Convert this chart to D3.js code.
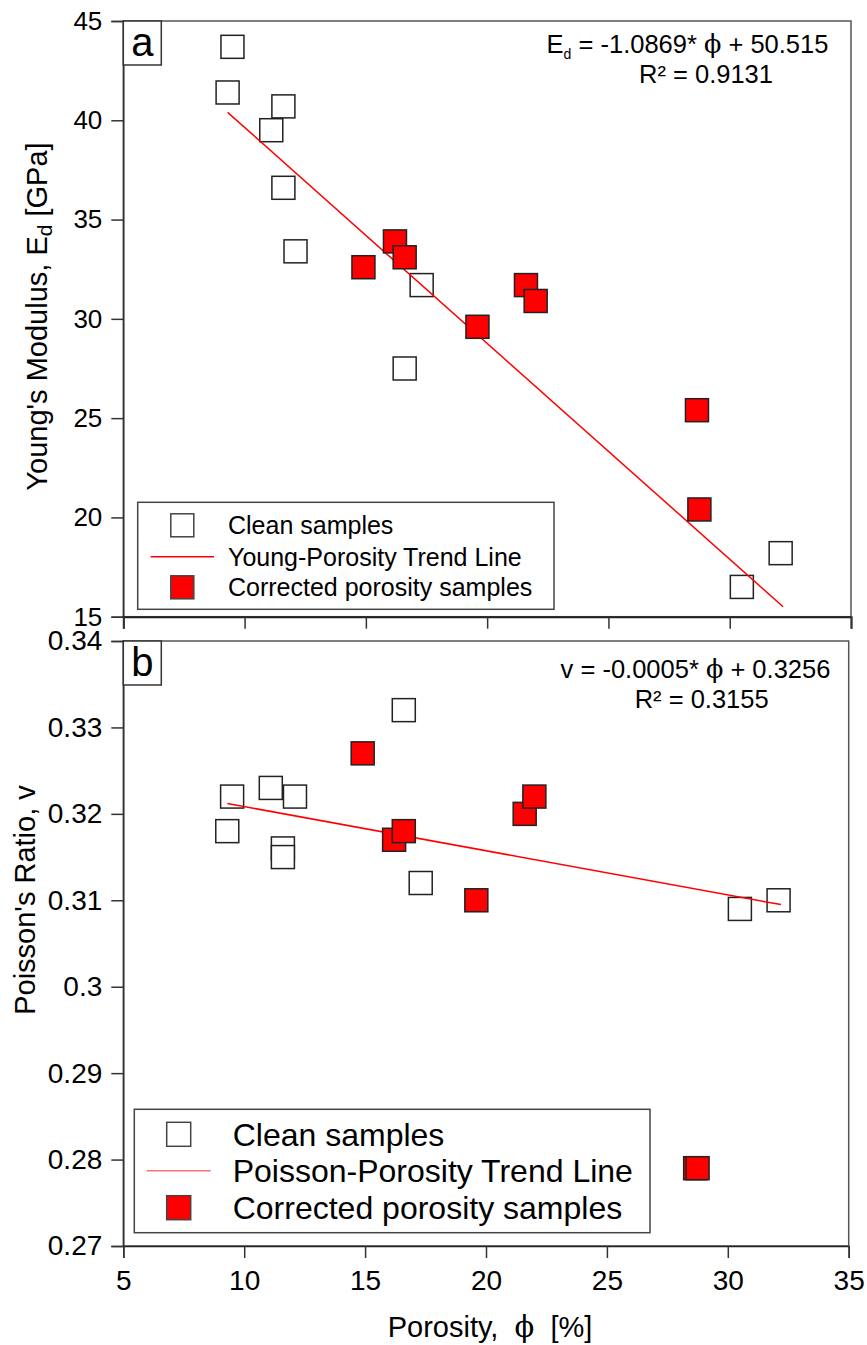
<!DOCTYPE html>
<html>
<head>
<meta charset="utf-8">
<script src="https://cdn.jsdelivr.net/npm/d3@7"></script>
<style>
	body { margin: 0; background: #fff; }
	svg { display: block; }
	text { font-family: "Liberation Sans", Arial, sans-serif; fill: #000; }
</style>
</head>
<body>
<div id="vis"></div>
<script>
// ticks
const porosityTicks = [5, 10, 15, 20, 25, 30, 35]
const youngTicks = [15, 20, 25, 30, 35, 40, 45]
const poissonTicks = [0.27, 0.28, 0.29, 0.3, 0.31, 0.32, 0.33, 0.34]

// clean samples
const cleanPorosity = [9.5, 9.3, 11.1, 11.6, 11.6, 12.1, 16.6, 17.3, 30.5, 32.1]
const cleanYoung = [43.7, 41.4, 39.5, 40.7, 36.6, 33.4, 27.5, 31.7, 16.5, 18.2]
const cleanPoisson = [0.322, 0.318, 0.323, 0.316, 0.315, 0.322, 0.332, 0.312, 0.309, 0.310]

// corrected porosity samples
const corrPorosity = [14.9, 16.2, 16.6, 19.6, 21.6, 22.0, 28.65, 28.75]
const corrYoung = [32.6, 33.9, 33.1, 29.6, 31.7, 30.9, 25.4, 20.4]
const corrPoisson = [0.327, 0.317, 0.318, 0.310, 0.320, 0.322, 0.279, 0.279]

// trend line end points
const trendPorosity = [9.3, 32.2]
const youngTrend = [40.4, 15.5]
const poissonTrend = [0.3212, 0.3095]

const PHI = '\u03D5'
const NBSP = '\u00A0'
const markerSize = 23

const svg = d3.select('#vis')
	.append('svg')
	.attr('width', 867)
	.attr('height', 1345)

// draws one panel (frame, axes, points, trend line, equation, legend)
function drawPanel(p) {
	const x = d3.scaleLinear([5, 35], p.xRange)
	const y = d3.scaleLinear(p.yDomain, p.yRange)
	const g = svg.append('g')

	g.append('rect')
		.attr('x', p.xRange[0]).attr('y', p.yRange[1])
		.attr('width', p.xRange[1] - p.xRange[0])
		.attr('height', p.yRange[0] - p.yRange[1])
		.attr('fill', 'none')
		.attr('stroke', '#555')
		.attr('stroke-width', 1.5)

	let yAxis = g.append('g')
		.attr('transform', `translate(${p.xRange[0]},0)`)
		.call(d3.axisLeft(y).tickValues(p.yTicks).tickSize(12).tickPadding(9).tickFormat(d => String(d)))
	yAxis.select('.domain').attr('stroke', '#333').attr('stroke-width', 1.5)
	yAxis.selectAll('line').attr('stroke', '#333').attr('stroke-width', 1.5)
	yAxis.selectAll('text')
		.attr('font-size', p.tickFont + 'px')
		.attr('font-family', '"Liberation Sans", Arial, sans-serif')
		.attr('fill', '#000')

	let xAxis = g.append('g')
		.attr('transform', `translate(0,${p.yRange[0]})`)
		.call(d3.axisBottom(x).tickValues(porosityTicks).tickSize(12).tickPadding(12)
			.tickFormat(p.xLabels ? (d => String(d)) : ''))
	xAxis.select('.domain').attr('stroke', '#222').attr('stroke-width', p.bottomWidth)
	xAxis.selectAll('line').attr('stroke', '#333').attr('stroke-width', 1.5)
	xAxis.selectAll('text')
		.attr('font-size', p.tickFont + 'px')
		.attr('font-family', '"Liberation Sans", Arial, sans-serif')
		.attr('fill', '#000')

	// clean samples
	g.selectAll('.clean')
		.data(p.clean)
		.enter()
		.append('rect')
		.attr('class', 'clean')
		.attr('x', d => x(d[0]) - markerSize / 2)
		.attr('y', d => y(d[1]) - markerSize / 2)
		.attr('width', markerSize)
		.attr('height', markerSize)
		.attr('fill', '#fff')
		.attr('stroke', '#222')
		.attr('stroke-width', 1.5)

	// trend line
	g.append('path')
		.datum(p.trend)
		.attr('d', d3.line().x(d => x(d[0])).y(d => y(d[1])))
		.attr('fill', 'none')
		.attr('stroke', '#ff0000')
		.attr('stroke-width', 1.5)

	// corrected samples
	g.selectAll('.corr')
		.data(p.corr)
		.enter()
		.append('rect')
		.attr('class', 'corr')
		.attr('x', d => x(d[0]) - markerSize / 2)
		.attr('y', d => y(d[1]) - markerSize / 2)
		.attr('width', markerSize)
		.attr('height', markerSize)
		.attr('fill', '#ff0000')
		.attr('stroke', '#222')
		.attr('stroke-width', 1.5)

	// panel letter
	g.append('rect')
		.attr('x', p.xRange[0]).attr('y', p.yRange[1])
		.attr('width', 38).attr('height', 44)
		.attr('fill', '#fff')
		.attr('stroke', '#333')
		.attr('stroke-width', 1.5)
	g.append('text')
		.attr('x', p.xRange[0] + 19)
		.attr('y', p.yRange[1] + 35)
		.attr('text-anchor', 'middle')
		.attr('font-size', '40px')
		.text(p.letter)

	// equation
	let eq = g.append('text')
		.attr('x', p.eqX[0])
		.attr('y', p.yRange[1] + p.eqDy[0])
		.attr('text-anchor', 'middle')
		.attr('font-size', '25.5px')
	eq.append('tspan').text(p.eqVar)
	if (p.eqSub) {
		eq.append('tspan').attr('font-size', '14px').attr('dy', 6).text(p.eqSub)
		eq.append('tspan').attr('dy', -6).text(' = ' + p.eqSlope + '*' + NBSP)
	} else {
		eq.append('tspan').text(' = ' + p.eqSlope + '*' + NBSP)
	}
	eq.append('tspan').attr('font-family', 'DejaVu Serif, serif').text(PHI)
	eq.append('tspan').text(NBSP + '+ ' + p.eqIntercept)

	g.append('text')
		.attr('x', p.eqX[1])
		.attr('y', p.yRange[1] + p.eqDy[1])
		.attr('text-anchor', 'middle')
		.attr('font-size', '25.5px')
		.text('R\u00B2 = ' + p.r2)

	// legend
	const L = p.legend
	g.append('rect')
		.attr('x', L.x).attr('y', L.y)
		.attr('width', L.w).attr('height', L.h)
		.attr('fill', '#fff')
		.attr('stroke', '#444')
		.attr('stroke-width', 1.5)
	const rows = ['Clean samples', L.lineLabel, 'Corrected porosity samples']
	rows.forEach((label, i) => {
		let cy = L.rowY[i]
		if (i == 1) {
			g.append('line')
				.attr('x1', L.lineX[0]).attr('x2', L.lineX[1])
				.attr('y1', cy).attr('y2', cy)
				.attr('stroke', L.lineColor)
				.attr('stroke-width', 1.5)
		} else {
			g.append('rect')
				.attr('x', L.markX - L.mark / 2).attr('y', cy - L.mark / 2)
				.attr('width', L.mark).attr('height', L.mark)
				.attr('fill', i == 0 ? '#fff' : '#ff0000')
				.attr('stroke', '#444')
				.attr('stroke-width', 1.5)
		}
		g.append('text')
			.attr('x', L.textX)
			.attr('y', cy)
			.attr('dy', '0.36em')
			.attr('font-size', L.font + 'px')
			.text(label)
	})
}

drawPanel({
	xRange: [123.3, 851],
	yRange: [616.7, 21],
	yDomain: [15, 45],
	yTicks: youngTicks,
	tickFont: 26,
	xLabels: false,
	bottomWidth: 2,
	clean: cleanPorosity.map((d, i) => [d, cleanYoung[i]]),
	corr: corrPorosity.map((d, i) => [d, corrYoung[i]]),
	trend: trendPorosity.map((d, i) => [d, youngTrend[i]]),
	letter: 'a',
	eqVar: 'E', eqSub: 'd', eqSlope: '-1.0869', eqIntercept: '50.515', r2: '0.9131',
	eqX: [687.5, 706], eqDy: [32, 62],
	legend: {
		x: 137.7, y: 502.3, w: 416.3, h: 107,
		rowY: [525.3, 556.7, 587.3],
		markX: 182.3, mark: 23,
		lineX: [150.7, 214], lineColor: '#ff0000',
		textX: 228, font: 25,
		lineLabel: 'Young-Porosity Trend Line'
	}
})

drawPanel({
	xRange: [123.3, 848.7],
	yRange: [1246, 641],
	yDomain: [0.27, 0.34],
	yTicks: poissonTicks,
	tickFont: 28,
	xLabels: true,
	bottomWidth: 1.5,
	clean: cleanPorosity.map((d, i) => [d, cleanPoisson[i]]),
	corr: corrPorosity.map((d, i) => [d, corrPoisson[i]]),
	trend: trendPorosity.map((d, i) => [d, poissonTrend[i]]),
	letter: 'b',
	eqVar: 'v', eqSub: null, eqSlope: '-0.0005', eqIntercept: '0.3256', r2: '0.3155',
	eqX: [695.5, 701.7], eqDy: [37.3, 67.3],
	legend: {
		x: 134.3, y: 1109.3, w: 515.7, h: 123.4,
		rowY: [1134.3, 1170.7, 1207.7],
		markX: 178.7, mark: 24,
		lineX: [146.7, 210.7], lineColor: '#ff7070',
		textX: 232.7, font: 32,
		lineLabel: 'Poisson-Porosity Trend Line'
	}
})

// axis titles
svg.append('text')
	.attr('transform', 'translate(47,316.5) rotate(-90)')
	.attr('text-anchor', 'middle')
	.attr('font-size', '29px')
	.call(t => {
		t.append('tspan').text("Young's Modulus, E")
		t.append('tspan').attr('font-size', '21px').attr('dy', 5).text('d')
		t.append('tspan').attr('dy', -5).text(NBSP + '[GPa]')
	})

svg.append('text')
	.attr('transform', 'translate(35,900) rotate(-90)')
	.attr('text-anchor', 'middle')
	.attr('font-size', '29px')
	.text("Poisson's Ratio, v")

svg.append('text')
	.attr('x', 490)
	.attr('y', 1336.7)
	.attr('text-anchor', 'middle')
	.attr('font-size', '29px')
	.call(t => {
		t.append('tspan').text('Porosity,' + NBSP + NBSP)
		t.append('tspan').attr('font-family', 'DejaVu Serif, serif').text(PHI)
		t.append('tspan').text(NBSP + NBSP + '[%]')
	})
</script>
</body>
</html>
